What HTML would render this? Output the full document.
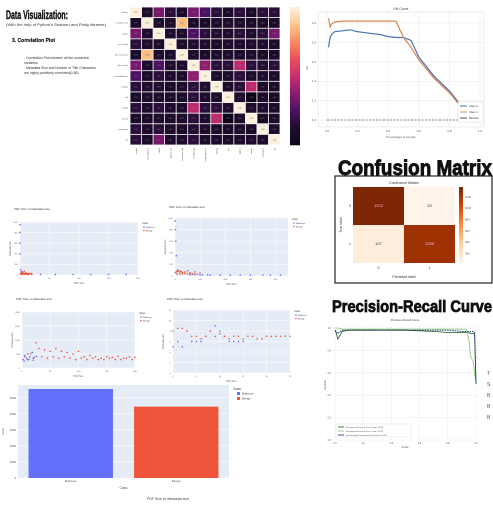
<!DOCTYPE html>
<html><head><meta charset="utf-8">
<style>
body{margin:0;background:#fff;width:493px;height:507px;overflow:hidden;font-family:"Liberation Sans",sans-serif}
svg{display:block}
.h{font-family:"Liberation Sans Narrow","Liberation Sans",sans-serif;font-weight:bold;fill:#111;stroke:#111;stroke-width:0.6}
</style></head>
<body>
<svg id="s" width="493" height="507" viewBox="0 0 493 507">
<text class="h" x="6" y="19" font-size="12" textLength="62" lengthAdjust="spacingAndGlyphs" style="stroke-width:0.4">Data Visualization:</text>
<text x="6" y="26" font-size="3.6" fill="#333" textLength="100" lengthAdjust="spacingAndGlyphs">(With the help of Python's Seaborn and Plotly libraries)</text>
<text class="h" x="12" y="42" font-size="5" textLength="43" lengthAdjust="spacingAndGlyphs" style="stroke-width:0.15">3.   Correlation Plot</text>
<text x="24" y="59" font-size="3.4" fill="#333">- Correlation Plot between all the numerical</text>
<text x="24" y="64" font-size="3.4" fill="#333">variables.</text>
<text x="24" y="69" font-size="3.4" fill="#333">- Metadata Size and Number of Title Characters</text>
<text x="24" y="74" font-size="3.4" fill="#333">are highly positively correlated(0.86).</text>
<text class="h" x="338" y="175" font-size="21" textLength="154" lengthAdjust="spacingAndGlyphs" style="stroke-width:0.9">Confusion Matrix</text>
<text class="h" x="332" y="312" font-size="17" textLength="160" lengthAdjust="spacingAndGlyphs" style="stroke-width:0.8">Precision-Recall Curve</text>
<text x="168" y="500" font-size="3.5" fill="#444" text-anchor="middle">PDF Size vs Metadata size</text>
<g id="hm"></g>
<g id="lift"></g>
<g id="cm"></g>
<g id="pr"></g>
<g id="sc"></g>
<g id="bar"></g>
</svg>
<script>
// ---------- heatmap data ----------
const hmLabels=["pdfsize","metadata size","pages","xref Length","title characters","isEncrypted","embedded files","images","obj","endobj","stream","endstream","JS"];
const hmRow0=[1,0.05,0.3,0.1,0.04,0.3,0.2,0.1,0.03,0.1,0.03,0.1,0.1];
const hmRow1=[0.05,1,0.06,0.05,0.86,0.04,0.03,0.05,0.05,0.06,0.03,0.04,0.04];
const hmRow2=[0.3,0.06,1,0.05,0.05,0.2,0.1,0.08,0.05,0.1,0.05,0.1,0.3];
const hmRow3=[0.1,0.05,0.05,1,0.05,0.06,0.05,0.03,0.05,0.05,0.05,0.05,0.05];
const hmRow4=[0.04,0.86,0.05,0.05,1,0.05,0.04,0.05,0.05,0.05,0.05,0.04,0.04];
const hmRow5=[0.3,0.04,0.2,0.06,0.05,1,0.35,0.1,0.1,0.45,0.1,0.08,0.1];
const hmRow6=[0.2,0.03,0.1,0.05,0.04,0.35,1,0.05,0.05,0.1,0.05,0.05,0.05];
const hmRow7=[0.1,0.05,0.08,0.03,0.05,0.1,0.05,1,0.05,0.1,0.45,0.05,0.05];
const hmRow8=[0.03,0.05,0.05,0.05,0.05,0.1,0.05,0.05,1,0.05,-0.05,0.03,0.03];
const hmRow9=[0.1,0.06,0.1,0.05,0.05,0.45,0.1,0.1,0.05,1,0.05,0.05,0.05];
const hmRow10=[0.03,0.03,0.05,0.05,0.05,0.1,0.05,0.45,-0.05,0.05,1,0.03,0.05];
const hmRow11=[0.1,0.04,0.1,0.05,0.04,0.08,0.05,0.05,0.03,0.05,0.03,1,0.05];
const hmRow12=[0.1,0.04,0.3,0.05,0.04,0.1,0.05,0.05,0.03,0.05,0.05,0.05,1];
const hmRows=[hmRow0,hmRow1,hmRow2,hmRow3,hmRow4,hmRow5,hmRow6,hmRow7,hmRow8,hmRow9,hmRow10,hmRow11,hmRow12];
// ---------- lift data ----------
const liftX=[0.01,0.02,0.03,0.05,0.1,0.15,0.2,0.25,0.3,0.35,0.4,0.45,0.5,0.55,0.6,0.7,0.8,0.87,0.93,1.0];
const liftClass0=[1.75,1.85,1.88,1.91,1.92,1.93,1.91,1.9,1.89,1.88,1.86,1.85,1.85,1.82,1.65,1.45,1.3,1.16,1.08,1.0];
const liftClass1=[2.05,1.96,1.99,2.01,2.02,2.02,2.02,2.02,2.02,2.02,2.02,2.02,1.85,1.75,1.62,1.43,1.28,1.15,1.07,1.0];
const liftTicksX=[0,0.2,0.4,0.6,0.8,1.0];
const liftTicksY=[1.0,1.2,1.4,1.6,1.8,2.0];
// ---------- confusion ----------
const cmValues=[[1372,33],[107,1256]];
const cmTicks=[200,400,600,800,1000,1200];
// ---------- PR ----------
const prRecall=[0,0.01,0.02,0.05,0.1,0.3,0.5,0.7,0.8,0.9,0.93,0.95,0.96,0.98,0.99,1.0];
const prClass0=[0.98,0.95,0.9,0.97,0.98,0.98,0.98,0.97,0.96,0.96,0.96,0.96,0.95,0.95,0.95,0.5];
const prClass1=[1.0,1.0,1.0,0.99,0.99,0.99,0.99,0.99,0.99,0.99,0.99,0.9,0.75,0.7,0.6,0.5];
const prMicro=[0.98,0.97,0.95,0.98,0.98,0.98,0.98,0.98,0.98,0.97,0.97,0.97,0.97,0.97,0.96,0.5];
const prTicks=[0,0.2,0.4,0.6,0.8,1.0];
// ---------- scatter data ----------
const sc1MalX=[0,0,0,0,1,2,3,5,8,12,20,35,60,90,120,150,180];
const sc1MalY=[950,800,600,400,100,60,40,30,20,20,10,10,10,10,10,10,10];
const sc1BenX=[1,2,3,4,5,6,7,8,10,12,14,16,18,20,1,3,5,7,9,11,13,15];
const sc1BenY=[30,40,60,50,40,30,70,30,40,20,30,20,30,20,15,20,15,20,15,15,15,10];
const sc2MalX=[0,2,3,5,10,60,100,140,180,220,260,300,350,380,420,70,80,90,110,130];
const sc2MalY=[950,800,600,350,100,20,15,15,15,15,15,15,15,15,15,30,25,30,20,20];
const sc2BenX=[2,5,10,15,20,25,30,40,50,60,80,100,8,18,28,38,48,58,68,78];
const sc2BenY=[60,70,80,90,70,80,60,70,90,60,70,50,30,40,35,45,40,35,40,30];
const sc3MalX=[2,5,8,10,14,18,22,26,4,12,20];
const sc3MalY=[300,450,350,500,400,550,380,420,250,300,280];
const sc3BenX=[5,10,15,20,25,30,40,50,60,70,80,90,100,110,120,130,140,150,160,170,180,190,200,35,45,55,65,75,85,95,105,115,125,135,145,155,165,175,185,195];
const sc3BenY=[400,300,500,350,900,700,650,600,700,600,550,500,600,400,450,400,350,400,380,420,350,400,380,400,350,400,350,400,350,300,350,300,350,300,300,350,300,300,350,300];
const sc4MalX=[0,1,2,3,4,5,6,7,8,9,10,11,12,13,14,15];
const sc4MalY=[5,6,5,8,6,6,6,7,8,9,8,7,6,6,6,6];
const sc4BenX=[0,1,2,3,4,5,6,7,8,9,10,11,12,13,14,15,16,17,18,19,20,21,22,23,24,25];
const sc4BenY=[8,8.5,8.5,8,7,7,6.5,7,8,7,7.5,7,6.5,7,7,6.5,7,7,6.5,6.5,7,7,7,7,7,7];
// ---------- bar data ----------
const barCats=["Malicious","Benign"];
const barVals=[5550,4450];
const barTicks=[0,1000,2000,3000,4000,5000];

const NS="http://www.w3.org/2000/svg";
function el(p,t,a,txt){const e=document.createElementNS(NS,t);for(const k in a)e.setAttribute(k,a[k]);if(txt!==undefined)e.textContent=txt;p.appendChild(e);return e;}
function lin(d0,d1,r0,r1){return v=>r0+(v-d0)/(d1-d0)*(r1-r0);}
function lerpC(stops,t){t=Math.max(0,Math.min(1,t));const n=stops.length-1;const i=Math.min(n-1,Math.floor(t*n));const f=t*n-i;const a=stops[i],b=stops[i+1];return `rgb(${a.map((v,k)=>Math.round(v+(b[k]-v)*f)).join(',')})`;}
const magma=[[12,6,24],[35,14,50],[79,18,103],[140,30,110],[200,45,110],[235,80,90],[251,135,97],[254,194,135],[252,240,220]];
const oranges=[[255,245,235],[253,208,162],[253,141,60],[217,72,1],[127,39,4]];

// heatmap
const hm=document.getElementById('hm');
el(hm,'rect',{x:130,y:7,width:150,height:138,fill:'#fff'});
const hx=lin(0,13,130,280),hy=lin(0,13,7,145);
const cw=150/13,ch=138/13;
hmRows.forEach((row,i)=>{
  row.forEach((v,j)=>{
    const r=el(hm,'rect',{x:hx(j)+0.4,y:hy(i)+0.4,width:cw-0.8,height:ch-0.8,fill:lerpC(magma,(v+0.05)/1.05)});
    
    
    const t=el(hm,'text',{x:hx(j)+cw/2,y:hy(i)+ch/2+0.7,'font-size':1.8,'text-anchor':'middle',fill:v>0.6?'#555':'#888'},v.toFixed(2));
    
    
  });
  const l=el(hm,'text',{x:128,y:hy(i)+ch/2+0.8,'font-size':2,'text-anchor':'end',fill:'#555'},hmLabels[i]);
  
  
  const c=el(hm,'text',{x:hx(i)+cw/2,y:148,'font-size':2,fill:'#555',transform:`rotate(90 ${hx(i)+cw/2} 148)`},hmLabels[i]);
  
  
});
for(let k=0;k<40;k++){el(hm,'rect',{x:290,y:7+k*138/40,width:10,height:138/40+0.3,fill:lerpC(magma,1-k/39)})}

// lift
const lf=document.getElementById('lift');
const lx=lin(0,1,327,480),ly=lin(1,2,120,23);
el(lf,'rect',{x:318,y:12,width:166,height:115,fill:'#fff',stroke:'#ddd','stroke-width':0.5});
el(lf,'text',{x:401,y:10,'font-size':3.5,'text-anchor':'middle',fill:'#444'},'Lift Curve');
liftTicksX.forEach(v=>{el(lf,'line',{x1:lx(v),x2:lx(v),y1:12,y2:127,stroke:'#e6e6e6','stroke-width':0.5});
 const t=el(lf,'text',{x:lx(v),y:132,'font-size':3,'text-anchor':'middle',fill:'#555'},v.toFixed(1));});
liftTicksY.forEach(v=>{el(lf,'line',{x1:318,x2:484,y1:ly(v),y2:ly(v),stroke:'#e6e6e6','stroke-width':0.5});
 const t=el(lf,'text',{x:316,y:ly(v)+1,'font-size':3,'text-anchor':'end',fill:'#555'},v.toFixed(1));});
el(lf,'text',{x:401,y:138,'font-size':3,'text-anchor':'middle',fill:'#555'},'Percentage of sample');
el(lf,'text',{x:308,y:70,'font-size':3,fill:'#555',transform:'rotate(-90 308 70)'},'Lift');
const pl=(xs,ys,fx,fy)=>xs.map((x,i)=>`${fx(x).toFixed(1)},${fy(ys[i]).toFixed(1)}`).join(' ');
let p=el(lf,'polyline',{points:pl(liftX,liftClass0,lx,ly),fill:'none',stroke:'#4c72b0','stroke-width':1.2});
p=el(lf,'polyline',{points:pl(liftX,liftClass1,lx,ly),fill:'none',stroke:'#dd8452','stroke-width':1.2});
el(lf,'line',{x1:lx(0),x2:lx(1),y1:ly(1),y2:ly(1),stroke:'#555','stroke-width':0.8,'stroke-dasharray':'2,1.5'});
el(lf,'rect',{x:458,y:102,width:25,height:20,fill:'#fff',stroke:'#ccc','stroke-width':0.4});
[['Class 0','#4c72b0'],['Class 1','#dd8452'],['Baseline','#555']].forEach((d,i)=>{el(lf,'line',{x1:460,x2:467,y1:106+i*6,y2:106+i*6,stroke:d[1],'stroke-width':1});el(lf,'text',{x:469,y:107+i*6,'font-size':2.6,fill:'#444'},d[0]);});

// confusion matrix
const cm=document.getElementById('cm');
el(cm,'rect',{x:335,y:176,width:157,height:107,fill:'#fff',stroke:'#222','stroke-width':1.2});
el(cm,'text',{x:404,y:184,'font-size':4,'text-anchor':'middle',fill:'#333'},'Confusion Matrix');
const cmMax=1372,cmMin=33;
cmValues.forEach((row,i)=>row.forEach((v,j)=>{
 const r=el(cm,'rect',{x:353+j*51,y:187+i*38,width:51,height:38,fill:lerpC(oranges,(v-cmMin)/(cmMax-cmMin))});
 
 el(cm,'text',{x:378.5+j*51,y:207+i*38,'font-size':4,'text-anchor':'middle',fill:v>700?'#fbe':'#333'},v);
}));
['0','1'].forEach((l,i)=>{el(cm,'text',{x:349,y:207+i*38,'font-size':3.5,fill:'#333'},l);el(cm,'text',{x:378.5+i*51,y:269,'font-size':3.5,'text-anchor':'middle',fill:'#333'},l);});
el(cm,'text',{x:404,y:278,'font-size':3.5,'text-anchor':'middle',fill:'#333'},'Predicted label');
el(cm,'text',{x:342,y:225,'font-size':3.5,fill:'#333','text-anchor':'middle',transform:'rotate(-90 342 225)'},'True label');
for(let k=0;k<30;k++){el(cm,'rect',{x:459,y:187+k*76/30,width:4,height:76/30+0.3,fill:lerpC(oranges,1-k/29)})}
const cy=lin(cmMin,cmMax,263,187);
cmTicks.forEach(v=>{el(cm,'text',{x:465,y:cy(v)+1,'font-size':2.8,fill:'#555'},v);});

// PR
const pr=document.getElementById('pr');
const px=lin(0,1,335,476),py=lin(0,1,440,328);
el(pr,'text',{x:405,y:321,'font-size':2.8,'text-anchor':'middle',fill:'#444'},'Precision-Recall Curve');
prTicks.forEach(v=>{el(pr,'line',{x1:px(v),x2:px(v),y1:326,y2:440,stroke:'#e8e8e8','stroke-width':0.5});el(pr,'line',{x1:333,x2:478,y1:py(v),y2:py(v),stroke:'#e8e8e8','stroke-width':0.5});
 el(pr,'text',{x:px(v),y:444,'font-size':2.4,'text-anchor':'middle',fill:'#555'},v.toFixed(1));el(pr,'text',{x:331,y:py(v)+1,'font-size':2.4,'text-anchor':'end',fill:'#555'},v.toFixed(1));});
el(pr,'text',{x:405,y:448,'font-size':2.4,'text-anchor':'middle',fill:'#555'},'Recall');
el(pr,'text',{x:326,y:385,'font-size':2.4,'text-anchor':'middle',fill:'#555',transform:'rotate(-90 326 385)'},'Precision');
p=el(pr,'polyline',{points:pl(prRecall,prClass0,px,py),fill:'none',stroke:'#1b5e20','stroke-width':0.8});
p=el(pr,'polyline',{points:pl(prRecall,prClass1,px,py),fill:'none',stroke:'#7cc66b','stroke-width':0.8});
p=el(pr,'polyline',{points:pl(prRecall,prMicro,px,py),fill:'none',stroke:'#1a237e','stroke-width':0.9,'stroke-dasharray':'1.5,1'});
el(pr,'rect',{x:336,y:424,width:75,height:13,fill:'#fff',stroke:'#ddd','stroke-width':0.4});
[['Precision-recall curve of class 0 (area = 0.953)','#1b5e20'],['Precision-recall curve of class 1 (area = 0.975)','#7cc66b'],['micro-average Precision-recall curve (area = 0.972)','#1a237e']].forEach((d,i)=>{el(pr,'line',{x1:338,x2:344,y1:427+i*4,y2:427+i*4,stroke:d[1],'stroke-width':0.8});el(pr,'text',{x:346,y:428+i*4,'font-size':1.8,fill:'#444'},d[0]);});
['T','S','B','B','B'].forEach((c,i)=>el(pr,'text',{x:487,y:375+i*11,'font-size':5,fill:'#555'},c));

// scatter plots
const sc=document.getElementById('sc');
function scatter(x0,y0,w,h,xmax,ymax,mx,my,bx,by,xt,yt,name){
 const fx=lin(0,xmax,x0,x0+w),fy=lin(0,ymax,y0+h,y0);
 el(sc,'text',{x:x0-6,y:y0-12+(name==='scatter-2'||name==='scatter-4'?2:0),'font-size':3,fill:'#444'},'PDF Size vs Metadata size');
 el(sc,'rect',{x:x0,y:y0,width:w,height:h,fill:'#e5ecf6'});
 xt.forEach(v=>{el(sc,'line',{x1:fx(v),x2:fx(v),y1:y0,y2:y0+h,stroke:'#fff','stroke-width':0.5});el(sc,'text',{x:fx(v),y:y0+h+4,'font-size':2.2,'text-anchor':'middle',fill:'#666'},v);});
 yt.forEach(v=>{el(sc,'line',{x1:x0,x2:x0+w,y1:fy(v),y2:fy(v),stroke:'#fff','stroke-width':0.5});el(sc,'text',{x:x0-2,y:fy(v)+0.8,'font-size':2.2,'text-anchor':'end',fill:'#666'},v);});
 el(sc,'text',{x:x0+w/2,y:y0+h+9,'font-size':2.4,'text-anchor':'middle',fill:'#666'},'PDF Size');
 el(sc,'text',{x:x0-9,y:y0+h/2,'font-size':2.4,'text-anchor':'middle',fill:'#666',transform:`rotate(-90 ${x0-9} ${y0+h/2})`},'Metadata size');
 mx.forEach((v,i)=>{const c=el(sc,'circle',{cx:fx(v),cy:fy(my[i]),r:0.8,fill:'#636efa'});});
 bx.forEach((v,i)=>{const c=el(sc,'circle',{cx:fx(v),cy:fy(by[i]),r:0.8,fill:'#ef553b'});});
 el(sc,'text',{x:x0+w+4,y:y0+2,'font-size':2.4,fill:'#444'},'Class');
 el(sc,'circle',{cx:x0+w+6,cy:y0+5,r:0.8,fill:'#636efa'});el(sc,'text',{x:x0+w+8,y:y0+5.8,'font-size':2.2,fill:'#444'},'Malicious');
 el(sc,'circle',{cx:x0+w+6,cy:y0+8.5,r:0.8,fill:'#ef553b'});el(sc,'text',{x:x0+w+8,y:y0+9.3,'font-size':2.2,fill:'#444'},'Benign');
}
scatter(20,222,118,53,200,1000,sc1MalX,sc1MalY,sc1BenX,sc1BenY,[0,50,100,150,200],[0,200,400,600,800,1000],'scatter-1');
scatter(175,218,113,58,450,1000,sc2MalX,sc2MalY,sc2BenX,sc2BenY,[0,100,200,300,400],[0,200,400,600,800,1000],'scatter-2');
scatter(22,312,113,56,200,2000,sc3MalX,sc3MalY,sc3BenX,sc3BenY,[0,50,100,150,200],[0,500,1000,1500,2000],'scatter-3');
scatter(173,310,117,63,25,12,sc4MalX,sc4MalY,sc4BenX,sc4BenY,[0,5,10,15,20,25],[0,2,4,6,8,10,12],'scatter-4');

// bar chart
const br=document.getElementById('bar');
const bx0=18,bx1=229,by0=385,by1=478;
const byS=lin(0,5800,by1,by0);
el(br,'rect',{x:bx0,y:by0,width:bx1-bx0,height:by1-by0,fill:'#e5ecf6'});
barTicks.forEach(v=>{el(br,'line',{x1:bx0,x2:bx1,y1:byS(v),y2:byS(v),stroke:'#fff','stroke-width':0.6});el(br,'text',{x:bx0-2,y:byS(v)+1,'font-size':2.8,'text-anchor':'end',fill:'#555'},v);});
const bw=(bx1-bx0)/barCats.length;const colors=['#636efa','#ef553b'];
barCats.forEach((c,i)=>{
 const r=el(br,'rect',{x:bx0+i*bw+bw*0.1,y:byS(barVals[i]),width:bw*0.8,height:by1-byS(barVals[i]),fill:colors[i]});
 
 el(br,'text',{x:bx0+i*bw+bw/2,y:482,'font-size':2.8,'text-anchor':'middle',fill:'#555'},c);
});
el(br,'text',{x:(bx0+bx1)/2,y:489,'font-size':3.2,'text-anchor':'middle',fill:'#555'},'Class');
el(br,'text',{x:4,y:(by0+by1)/2,'font-size':3,'text-anchor':'middle',fill:'#555',transform:`rotate(-90 4 ${(by0+by1)/2})`},'count');
el(br,'text',{x:233,y:390,'font-size':3.2,fill:'#444'},'Class');
barCats.forEach((c,i)=>{el(br,'rect',{x:237,y:392+i*5,width:3,height:3,fill:colors[i]});el(br,'text',{x:242,y:394.6+i*5,'font-size':2.8,fill:'#444'},c);});
</script>
</body></html>
